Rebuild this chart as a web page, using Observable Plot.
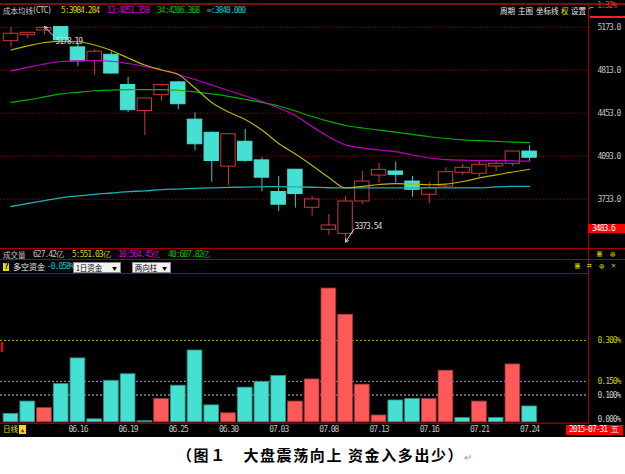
<!DOCTYPE html>
<html><head><meta charset="utf-8">
<script src="https://cdn.jsdelivr.net/npm/d3@7"></script>
<script src="https://cdn.jsdelivr.net/npm/@observablehq/plot@0.6"></script>
<style>
body{margin:0;background:#fff;}
#wrap{position:relative;width:625px;height:474px;background:#fff;overflow:hidden;}
#chart{position:absolute;left:0;top:0;width:625px;height:437px;background:#000;}
.a{position:absolute;white-space:nowrap;line-height:10px;}
.n{font-family:"DejaVu Sans Mono",monospace;font-size:8px;letter-spacing:-1px;}
.c{font-family:"Noto Sans CJK SC",sans-serif;font-size:7.5px;}
.ln{position:absolute;}
#main,#flow{position:absolute;left:0;}
#main{top:0;}
#flow{top:274px;}
.dd{position:absolute;background:#f2f2f2;border:1px solid #888;height:9px;font-family:"Noto Sans CJK SC",sans-serif;font-size:7.5px;line-height:9px;color:#000;}
.dd span.ar{position:absolute;right:3px;top:0;font-size:5px;}
</style></head>
<body>
<div id="wrap">
<div id="chart"></div>
</div>
<script>
// ---- data ----
const dates = ["06.10","06.11","06.12","06.15","06.16","06.17","06.18","06.19","06.23","06.24","06.25","06.26","06.29","06.30","07.01","07.02","07.03","07.06","07.07","07.08","07.09","07.10","07.13","07.14","07.15","07.16","07.17","07.20","07.21","07.22","07.23","07.24"];
const open  = [5056,5106,5145,5174,5004,4890,4942,4689,4471,4604,4711,4399,4289,4006,4214,4058,3793,3980,3661,3477,3443,3714,3931,3965,3881,3770,3839,3954,3946,4007,4029,4132];
const high  = [5170,5132,5178.19,5176,5029,4985,4966,4754,4577,4691,4720,4456,4297,4279,4317,4080,3925,3980,3755,3605,3756,3965,4034,4043,3923,3875,3996,4023,4051,4049,4135,4183];
const low   = [5006,5075,5110,5048,4842,4767,4780,4459,4264,4552,4483,4139,3875,3847,4043,3795,3629,3658,3592,3429,3373.54,3689,3867,3870,3750,3694,3825,3931,3917,3965,4004,4049];
const close = [5118,5126,5167,5063,4887,4968,4785,4478,4576,4690,4528,4193,4053,4277,4054,3913,3687,3776,3731,3513,3714,3881,3979,3937,3812,3825,3959,3996,4021,4029,4132,4080];
const ma5   = [4982,5016,5045,5055,5051,5024,4978,4915,4857,4815,4777,4664,4543,4463,4400,4312,4199,4111,4015,3915,3828,3841,3856,3864,3860,3854,3860,3881,3911,3936,3961,3984];
const ma13  = [4808,4836,4865,4886,4892,4894,4888,4869,4844,4815,4777,4735,4689,4643,4597,4551,4497,4434,4342,4254,4188,4162,4145,4132,4103,4078,4064,4060,4057,4057,4054,4051];
const ma34  = [4543,4564,4589,4614,4628,4641,4647,4651,4651,4651,4645,4631,4614,4594,4568,4544,4513,4471,4425,4384,4350,4329,4312,4294,4276,4256,4241,4230,4223,4217,4211,4206];
const maInf = [3672,3697,3722,3745,3760,3774,3785,3796,3803,3814,3818,3824,3828,3832,3834,3837,3838,3836,3833,3829,3828,3828,3828,3828,3828,3828,3828,3828,3828,3837,3841,3840];
const flow  = [-0.031,-0.076,0.052,-0.140,-0.234,-0.011,-0.152,-0.176,-0.004,0.085,-0.134,-0.263,-0.062,0.033,-0.127,-0.148,-0.170,0.076,0.157,0.490,0.394,0.138,0.025,-0.080,-0.085,0.085,0.189,-0.016,0.076,-0.016,0.212,-0.058];
const priceTicks = [5173,4813,4453,4093,3733];
const flowTicksYellow = [0.3,0.15];
const flowTicksGray = [0.1];
const flowTickZero = [0];
const dateTicks = [4,7,10,13,16,19,22,25,28,31];

// ---- styles ----
const RED = "#c83c3c", CY = "#46e0d2", CYW = "#3cc8bc";
const xDomain = [-0.628, 34.52];
const candles = dates.map((d,i)=>({k:i,date:d,open:open[i],high:high[i],low:low[i],close:close[i],up:close[i]>=open[i]}));
const flows = flow.map((v,i)=>({k:i,v,a:Math.abs(v)}));
const hiC = candles.reduce((a,b)=>b.high>a.high?b:a);
const loC = candles.reduce((a,b)=>b.low<a.low?b:a);
const font = {background:"transparent",color:"#c0c0c0",fontFamily:"DejaVu Sans Mono, monospace",fontSize:"8px",letterSpacing:"-1px",overflow:"visible"};
const ppx = (5396.5-3320.3)/248; // price per pixel

const main = Plot.plot({
  width:625, height:248, marginLeft:0, marginRight:37, marginTop:0, marginBottom:0,
  style:font,
  x:{domain:xDomain, axis:null},
  y:{domain:[3320.3,5396.5], label:null},
  marks:[
    Plot.ruleY(priceTicks,{stroke:"#8a0000",strokeDasharray:"1.5,2"}),
    Plot.ruleX(candles,{x:"k",y1:"low",y2:"high",stroke:d=>d.up?RED:CYW}),
    Plot.rect(candles,{x1:d=>d.k-0.43,x2:d=>d.k+0.43,y1:"open",y2:"close",fill:d=>d.up?"#000":CY,stroke:d=>d.up?RED:CY}),
    Plot.line(maInf,{x:(d,i)=>i,y:d=>d,stroke:"#1fb0b0",strokeWidth:1.3,curve:"monotone-x"}),
    Plot.line(ma34,{x:(d,i)=>i,y:d=>d,stroke:"#00b000",strokeWidth:1.2,curve:"monotone-x"}),
    Plot.line(ma13,{x:(d,i)=>i,y:d=>d,stroke:"#c000c0",strokeWidth:1.2,curve:"monotone-x"}),
    Plot.line(ma5,{x:(d,i)=>i,y:d=>d,stroke:"#b8b400",strokeWidth:1.2,curve:"monotone-x"}),
    Plot.arrow([hiC],{x1:d=>d.k+0.51,y1:d=>d.high-9*ppx,x2:"k",y2:"high",stroke:"#d8d8d8",headLength:5,strokeWidth:1}),
    Plot.text([hiC],{x:"k",y:"high",text:d=>d.high.toFixed(2),dx:11,dy:15,textAnchor:"start",fill:"#d8d8d8"}),
    Plot.arrow([loC],{x1:d=>d.k+0.48,y1:d=>d.low+12.5*ppx,x2:"k",y2:"low",stroke:"#d8d8d8",headLength:5,strokeWidth:1}),
    Plot.text([loC],{x:"k",y:"low",text:d=>d.low.toFixed(2),dx:9,dy:-15.5,textAnchor:"start",fill:"#d8d8d8"}),
    Plot.axisY(priceTicks,{anchor:"right",tickSize:0,tickPadding:9,tickFormat:d=>d.toFixed(1),fill:"#c0c0c0",label:null})
  ]
});
main.id="main";

const fl = Plot.plot({
  width:625, height:164, marginLeft:0, marginRight:37, marginTop:0, marginBottom:16.2,
  style:font,
  x:{domain:xDomain, label:null},
  y:{domain:[0,0.5414], label:null},
  marks:[
    Plot.ruleY(flowTicksYellow,{stroke:"#b8b800",strokeDasharray:"2,2"}),
    Plot.ruleY(flowTicksGray,{stroke:"#c8c8c8",strokeDasharray:"2,2"}),
    Plot.rect(flows,{x1:d=>d.k-0.44,x2:d=>d.k+0.44,y1:0,y2:"a",fill:d=>d.v>=0?"#ff5a5a":CY,stroke:d=>d.v>=0?"#a03838":"#2a9088",strokeWidth:0.8}),
    Plot.ruleY([0],{stroke:"#8a0000",strokeWidth:1.5,dy:1}),
    Plot.axisY(flowTicksYellow,{anchor:"right",tickSize:0,tickPadding:9,tickFormat:d=>d.toFixed(3)+"%",fill:"#c8c800",label:null}),
    Plot.axisY(flowTicksGray,{anchor:"right",tickSize:0,tickPadding:9,tickFormat:d=>d.toFixed(3)+"%",fill:"#c8c8c8",label:null}),
    Plot.axisY(flowTickZero,{anchor:"right",tickSize:0,tickPadding:9,dy:-3,tickFormat:d=>d.toFixed(3)+"%",fill:"#c8c8c8",label:null}),
    Plot.axisX(dateTicks,{anchor:"bottom",tickSize:0,tickPadding:4,tickFormat:k=>dates[k],fill:"#c0c0c0",label:null})
  ]
});
fl.id="flow";

const chart = document.getElementById("chart");
chart.appendChild(main);
chart.appendChild(fl);

function line(x,y,w,h,c){const d=document.createElement("div");d.className="ln";Object.assign(d.style,{left:x+"px",top:y+"px",width:w+"px",height:h+"px",background:c});chart.appendChild(d);return d;}
function txt(x,yc,s,c,cls,extra){const d=document.createElement("div");d.className="a "+cls;d.textContent=s;Object.assign(d.style,{left:x+"px",top:(yc-5)+"px",color:c},extra||{});chart.appendChild(d);return d;}

// frame lines
line(0,3,625,2,"#7a1010");
line(588,5,1,419,"#a00000");
line(0,248,625,1,"#a00000");
line(0,259,625,1,"#a00000");
line(0,273,588,1,"#a00000");
line(590,16,35,2,"#ff2020");
line(1,342,2,10,"#ff0000");

// header row
txt(3,11,"成本均线","#c8c8c8","c");
txt(32,11,"(CTC)","#c8c8c8","n");
txt(61,11,"5:3984.284","#d0d000","n");
txt(107,11,"13:4051.358","#d000d0","n");
txt(157,11,"34:4206.368","#00c000","n");
txt(207,11,"∞:3840.000","#00c8c8","n");
txt(500,11,"周期","#e8e8e8","c");
txt(518,11,"主图","#e8e8e8","c");
txt(536,11,"坐标线","#e8e8e8","c");
txt(561,11,"权","#e0e000","c");
txt(571,11,"设置","#e8e8e8","c");
txt(589,9,"⌐","#e8e8e8","n");
txt(597,6,"1.32%","#ff3030","n");
// red price box
const pb = txt(588,228,"3483.6","#ffffff","n",{background:"#ff0000",width:"37px",height:"9px",lineHeight:"9px",paddingLeft:"4px",boxSizing:"border-box"});
pb.style.top="223.5px";

// volume row
txt(3,255,"成交量","#c0c0c0","c");
txt(33,255,"627.42亿","#c0c0c0","n");
txt(72,255,"5:551.03亿","#d0d000","n");
txt(118,255,"10:564.45亿","#d000d0","n");
txt(168,255,"40:607.82亿","#00c000","n");
txt(597,254,"▣","#c8c800","n",{fontSize:"8px"});
txt(610,254,"⊕","#c8c800","n",{fontSize:"9px"});

// 多空 row
const q = txt(3,267,"?","#000","n",{background:"#e8e000",width:"6px",height:"8px",lineHeight:"8px",textAlign:"center",fontWeight:"bold"});
q.style.top="263px";
txt(13,267,"多空资金","#e8e8e8","c",{fontSize:"8px"});
txt(47,267,"-0.058%","#00c8c8","n");
const d1=document.createElement("div");d1.className="dd";Object.assign(d1.style,{left:"73px",top:"262px",width:"46px"});d1.innerHTML='&nbsp;1日资金<span class="ar">▼</span>';chart.appendChild(d1);
const d2=document.createElement("div");d2.className="dd";Object.assign(d2.style,{left:"132px",top:"262px",width:"37px"});d2.innerHTML='&nbsp;两向柱<span class="ar">▼</span>';chart.appendChild(d2);
txt(575,266,"▣","#c8c800","n",{fontSize:"8px"});
txt(587,266,"⇄","#c8c800","n",{fontSize:"8px"});
txt(599,266,"⊕","#c8c800","n",{fontSize:"9px"});
txt(611,266,"✕","#c8c800","n",{fontSize:"8px"});

// bottom row
txt(3,429,"日线","#e0e000","c");
const tri = txt(19,429,"▲","#e00000","n",{background:"#e8e000",width:"7px",height:"9px",lineHeight:"9px",fontSize:"6px",textAlign:"center",letterSpacing:"0"});
tri.style.top="424.5px";
const db = txt(566,429,"2015-07-31 五","#ffffff","n",{background:"#ff0000",width:"57px",height:"10px",lineHeight:"10px",paddingLeft:"3px",boxSizing:"border-box"});
db.style.top="424.5px";

// caption
const cap=document.createElement("div");
cap.className="a";
Object.assign(cap.style,{left:"177px",top:"446px",fontFamily:"'Noto Sans CJK SC',sans-serif",fontWeight:"bold",fontSize:"15px",letterSpacing:"1.6px",lineHeight:"18px",color:"#000"});
cap.innerHTML='（图１　大盘震荡向上 资金入多出少）<span style="color:#999;font-weight:normal;font-size:10px;letter-spacing:0">↵</span>';
document.getElementById("wrap").appendChild(cap);
</script>
</body></html>
